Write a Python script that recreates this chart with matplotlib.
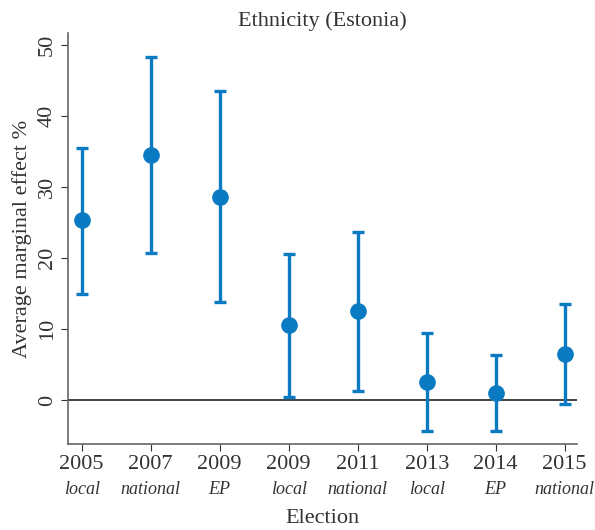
import matplotlib.pyplot as plt
import numpy as np

years = ['2005', '2007', '2009', '2009', '2011', '2013', '2014', '2015']
kinds = ['local', 'national', 'EP', 'local', 'national', 'local', 'EP', 'national']
effect = [25.3, 34.5, 28.6, 10.6, 12.5, 2.6, 1.0, 6.5]
ci_low = [15.0, 20.7, 13.8, 0.5, 1.3, -4.3, -4.4, -0.5]
ci_high = [35.5, 48.3, 43.5, 20.6, 23.6, 9.4, 6.4, 13.5]

blue = '#0a7bc2'
txt = '#333333'
plt.rcParams['font.family'] = ['Liberation Serif', 'DejaVu Serif']

fig = plt.figure(figsize=(5.95, 5.3), dpi=100)
ax = fig.add_axes([0.114, 0.162, 0.856, 0.776])

x = np.arange(len(effect))
eff = np.array(effect)
err = [eff - np.array(ci_low), np.array(ci_high) - eff]

ax.axhline(0, color='#222222', lw=1.2, zorder=1)
ax.errorbar(x, eff, yerr=err, fmt='o', color=blue, ms=11, elinewidth=2.4,
            capsize=4, capthick=2.4, zorder=3)

ax.set_xlim(-0.2, 7.18)
ax.set_ylim(-6.2, 51.7)
ax.set_yticks([0, 10, 20, 30, 40, 50])
ax.set_xticks(x)
ax.set_xticklabels(years, fontsize=16, color=txt)
for xi, k in zip(x, kinds):
    ax.annotate(k, xy=(xi, 0), xycoords=('data', 'axes fraction'),
                xytext=(0, -26.5), textcoords='offset points',
                ha='center', va='top', fontsize=13, style='italic', color=txt)

ax.tick_params(axis='y', labelrotation=90, labelsize=16, colors=txt, length=5, pad=3)
ax.tick_params(axis='x', colors=txt, length=5, pad=3)
for lab in ax.get_yticklabels():
    lab.set_va('center')

for s in ['top', 'right']:
    ax.spines[s].set_visible(False)
for s in ['left', 'bottom']:
    ax.spines[s].set_color('#666666')
    ax.spines[s].set_linewidth(1.2)

ax.set_title('Ethnicity (Estonia)', fontsize=16, color=txt, pad=5)
ax.set_ylabel('Average marginal effect %', fontsize=16, color=txt, labelpad=4)
ax.set_xlabel('Election', fontsize=16, color=txt, labelpad=25)

fig.savefig('out.png', dpi=100)
